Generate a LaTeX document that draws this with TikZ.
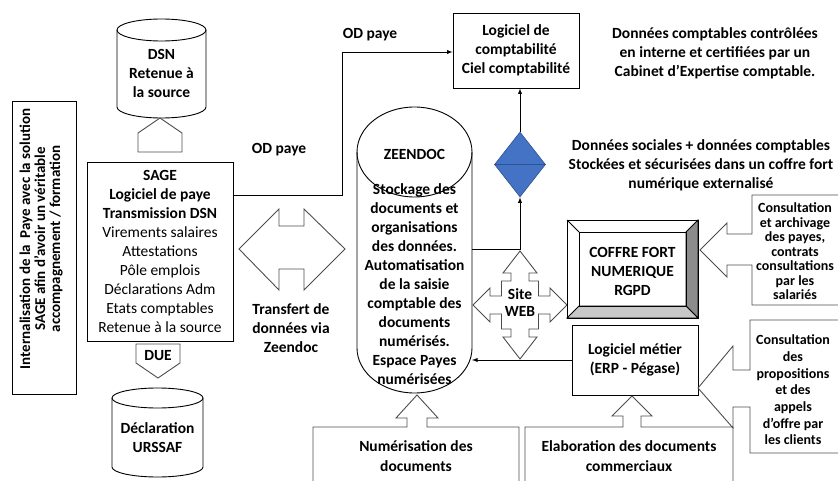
\documentclass[tikz,border=0pt]{standalone}
\usepackage{fontspec}
\setmainfont{Carlito}
\usetikzlibrary{arrows,shapes.geometric}
\definecolor{losange}{HTML}{4472C4}
\definecolor{losangebord}{HTML}{2F528F}
\definecolor{biseau}{HTML}{8C8C8C}
\definecolor{biseauclair}{HTML}{C8C8C8}

\begin{document}
\begin{tikzpicture}[
                  x = 1pt,
                  y = -1pt,
  every node/.style = {align=center, inner sep=0pt,
                       font=\bfseries\fontsize{15.5}{19}\selectfont},
       panel/.style = {draw, line width=0.9pt},
       shell/.style = {draw=black!70, line width=0.9pt, line join=miter},
        conn/.style = {draw, line width=0.9pt, -latex},
       notes/.style = {font=\bfseries\fontsize{14}{14.5}\selectfont},
                    ]
\useasboundingbox (0,0) rectangle (838,481);
\clip (0,0) rectangle (838,481);

% paie : SAGE
\node[panel, rotate=90, minimum width=293pt, minimum height=64pt] (intern) at (44,248) {};
\node[rotate=90, font=\bfseries\fontsize{15}{15}\selectfont] (interntxt) at (41,239)
    {Internalisation de la\ \ Paye avec la solution\\SAGE afin d’avoir un véritable\\accompagnement / formation};
\node[panel, minimum width=146pt, minimum height=179pt] (sage) at (160,251.5)
    {SAGE\\Logiciel de paye\\Transmission DSN\\{\mdseries Virements salaires}\\{\mdseries Attestations}\\
     {\mdseries Pôle emplois}\\{\mdseries Déclarations Adm}\\{\mdseries Etats comptables}\\{\mdseries Retenue à la source}};

\draw[panel] (117,30) -- (117,107) arc (180:0:44.5 and 11) -- (206,30);
\draw[panel] (161.5,30) ellipse (44.5 and 11);
\node (dsn) at (161.5,73) {DSN\\Retenue à\\la source};
\draw[shell] (138,152) -- (138,133) -- (160,118) -- (182,133) -- (182,152) -- cycle;

\draw[shell] (136,344) -- (180,344) -- (180,363) -- (158,378) -- (136,363) -- cycle;
\node (due) at (158,356) {DUE};
\draw[panel] (112,398) -- (112,467) arc (180:0:45.5 and 10) -- (203,398);
\draw[panel] (157.5,398) ellipse (45.5 and 10);
\node (urssaf) at (157.5,437.5) {Déclaration\\URSSAF};

% comptabilite
\node (odlow) at (279,150) {OD paye};
\node (odhigh) at (370,35) {OD paye};
\node[panel, minimum width=126pt, minimum height=75pt] (compta) at (516,50.5)
    {Logiciel de\\comptabilité\\Ciel comptabilité};
\coordinate (odstart) at (233,195);
\coordinate (odbend) at (342,52);
\draw[conn] (odstart) -| (odbend) -- (odbend -| compta.west);

\draw[shell] (239,249) -- (279,209) -- (279,226) -- (304,226) -- (304,209) -- (345,249)
          -- (304,290) -- (304,269) -- (279,269) -- (279,290) -- cycle;
\node (transfert) at (291,328) {Transfert de\\données via\\Zeendoc};

% ZEENDOC
\draw[panel] (357,152) -- (357,348) arc (180:0:57.5 and 45) -- (472,152);
\draw[panel] (414.5,152) ellipse (57.5 and 45);
\node (zeendoc) at (414.5,154) {ZEENDOC};
\node (zeetxt) at (414.5,284.5)
    {Stockage des\\documents et\\organisations\\des données.\\Automatisation\\de la saisie\\
     comptable des\\documents\\numérisés.\\Espace Payes\\numérisées};
\coordinate (zeeright) at (472,249);

\node[diamond, draw=losangebord, fill=losange, line width=0.6pt,
      minimum width=51pt, minimum height=65pt] (coffrelink) at (520,164.5) {};
\draw[losangebord, line width=0.6pt] (coffrelink.west) -- (coffrelink.east);
\draw[conn] (zeeright) -| (coffrelink.south);
\draw[conn] (coffrelink.north) -- (coffrelink.north |- compta.south);

\node (certif) at (715,53)
    {Données comptables contrôlées\\en interne et certifiées par un\\Cabinet d’Expertise comptable.};
\node (stockage) at (701,165)
    {Données sociales + données comptables\\Stockées et sécurisées dans un coffre fort\\numérique externalisé};

% site web
\draw[shell] (520,251) -- (537,273) -- (529,273) -- (529,281) -- (538.5,281) -- (538.5,296)
          -- (550,296) -- (550,288) -- (567,305) -- (550,322) -- (550,314) -- (538.5,314)
          -- (538.5,329) -- (529,329) -- (529,337) -- (537,337) -- (520,359) -- (503,337)
          -- (511,337) -- (511,329) -- (501.5,329) -- (501.5,314) -- (490,314) -- (490,322)
          -- (473,305) -- (490,288) -- (490,296) -- (501.5,296) -- (501.5,281) -- (511,281)
          -- (511,273) -- (503,273) -- cycle;
\node[font=\bfseries\fontsize{15.5}{17}\selectfont] (siteweb) at (520,303) {Site\\WEB};

% coffre fort
\filldraw[panel, fill=biseau] (698,220) -- (686,232) -- (686,306) -- (698,318) -- cycle;
\filldraw[panel, fill=biseauclair] (567,318) -- (579,306) -- (686,306) -- (698,318) -- cycle;
\draw[panel] (567,220) rectangle (698,318);
\draw[panel] (579,232) rectangle (686,306);
\draw[panel] (567,220) -- (579,232);
\node (coffre) at (632.5,271.5) {COFFRE FORT\\NUMERIQUE\\RGPD};

\node[panel, minimum width=126pt, minimum height=70pt] (metier) at (635,360)
    {Logiciel métier\\(ERP - Pégase)};
\draw[conn] (metier.west) -- (metier.west -| zeeright);

% bulles de droite
\draw[shell] (845,195) -- (752,195) -- (752,234) -- (727,234) -- (727,223) -- (700,250)
          -- (727,277) -- (727,265) -- (752,265) -- (752,305) -- (845,305) -- cycle;
\node[notes] (archivage) at (795,251.5)
    {Consultation\\et archivage\\des payes,\\contrats\\consultations\\par les\\salariés};
\draw[shell] (845,320) -- (750,320) -- (750,370) -- (733,370) -- (733,346) -- (698,388)
          -- (733,428) -- (733,407) -- (750,407) -- (750,453) -- (845,453) -- cycle;
\node[font=\bfseries\fontsize{14}{16.7}\selectfont] (propositions) at (793,390)
    {Consultation\\des\\propositions\\et des\\appels\\d’offre par\\les clients};

% en bas
\draw[shell] (313,490) -- (313,427) -- (407,427) -- (407,418) -- (396,418) -- (417,395)
          -- (438,418) -- (427,418) -- (427,427) -- (519,427) -- (519,490);
\node[font=\bfseries\fontsize{15.5}{20}\selectfont] (numerisation) at (416,456) {Numérisation des\\documents};
\draw[shell] (525,490) -- (525,427) -- (623,427) -- (623,416) -- (612,416) -- (632,396)
          -- (652,416) -- (641,416) -- (641,427) -- (733,427) -- (733,490);
\node[font=\bfseries\fontsize{15.5}{20}\selectfont] (elaboration) at (629,456) {Elaboration des documents\\commerciaux};
\end{tikzpicture}
\end{document}
